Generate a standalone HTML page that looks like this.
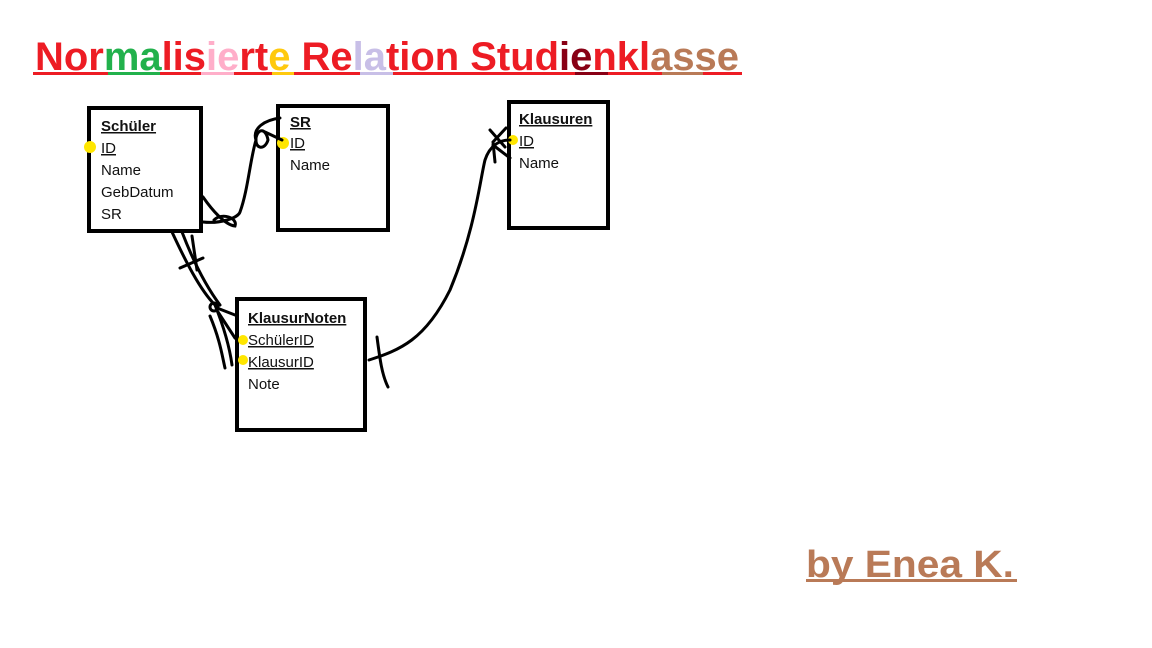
<!DOCTYPE html>
<html><head><meta charset="utf-8"><style>
html,body{margin:0;padding:0;background:#fff;}
svg{display:block;}
.t{font-family:"Liberation Sans",sans-serif;font-size:15px;fill:#111;}
.h{font-weight:bold;text-decoration:underline;}
.u{text-decoration:underline;}
</style></head><body>
<svg width="1152" height="648" viewBox="0 0 1152 648" xmlns="http://www.w3.org/2000/svg">
<rect width="1152" height="648" fill="#fff"/>
<!-- title -->
<text x="35" y="70" font-family="Liberation Sans, sans-serif" font-size="40" font-weight="bold" textLength="704" lengthAdjust="spacingAndGlyphs" fill="#ed1c24"><tspan>Nor</tspan><tspan fill="#22b14c">ma</tspan><tspan>lis</tspan><tspan fill="#ffaec9">ie</tspan><tspan>rt</tspan><tspan fill="#ffc90e">e</tspan><tspan> Re</tspan><tspan fill="#c8bfe7">la</tspan><tspan>tion Stud</tspan><tspan fill="#880015">ie</tspan><tspan>nkl</tspan><tspan fill="#b97a57">asse</tspan></text>
<rect x="33" y="72" width="709" height="3" fill="#ed1c24"/>
<rect x="108" y="72" width="52" height="3" fill="#22b14c"/>
<rect x="201" y="72" width="33" height="3" fill="#ffaec9"/>
<rect x="272" y="72" width="22" height="3" fill="#ffc90e"/>
<rect x="360" y="72" width="33" height="3" fill="#c8bfe7"/>
<rect x="575" y="72" width="33" height="3" fill="#880015"/>
<rect x="662" y="72" width="41" height="3" fill="#b97a57"/>
<!-- by Enea -->
<text x="806" y="577" font-family="Liberation Sans, sans-serif" font-size="38" font-weight="bold" fill="#b97a57" textLength="208" lengthAdjust="spacingAndGlyphs">by Enea K.</text>
<rect x="806" y="579" width="211" height="3" fill="#b97a57"/>
<!-- boxes -->
<g fill="none" stroke="#000" stroke-width="4">
<rect x="89" y="108" width="112" height="123"/>
<rect x="278" y="106" width="110" height="124"/>
<rect x="509" y="102" width="99" height="126"/>
<rect x="237" y="299" width="128" height="131"/>
</g>
<!-- texts -->
<text class="t h" x="101" y="131">Schüler</text>
<text class="t u" x="101" y="153">ID</text>
<text class="t" x="101" y="175">Name</text>
<text class="t" x="101" y="197">GebDatum</text>
<text class="t" x="101" y="219">SR</text>
<text class="t h" x="290" y="127">SR</text>
<text class="t u" x="290" y="148">ID</text>
<text class="t" x="290" y="170">Name</text>
<text class="t h" x="519" y="124">Klausuren</text>
<text class="t u" x="519" y="146">ID</text>
<text class="t" x="519" y="168">Name</text>
<text class="t h" x="248" y="323">KlausurNoten</text>
<text class="t u" x="248" y="345">SchülerID</text>
<text class="t u" x="248" y="367">KlausurID</text>
<text class="t" x="248" y="389">Note</text>
<!-- keys -->
<g fill="#ffe600">
<circle cx="90" cy="147" r="6"/>
<circle cx="283" cy="143" r="6"/>
<circle cx="513" cy="140" r="5"/>
<circle cx="243" cy="340" r="5"/>
<circle cx="243" cy="360" r="5"/>
</g>
<!-- connectors -->
<g fill="none" stroke="#000" stroke-width="3" stroke-linecap="round">
<path d="M203,222 C220,224 238,218 240,212 C248,190 250,160 256,140"/>
<path d="M203,197 C212,210 225,225 235,226 C238,218 222,212 214,220"/>
<path d="M256,140 C252,128 265,120 280,118"/>
<path d="M256,138 C258,128 266,128 268,140 C265,150 255,150 256,138"/>
<path d="M265,132 L282,140"/>
<path d="M172,232 C185,260 200,290 215,305 C225,330 230,350 232,365"/>
<path d="M182,232 C192,258 205,285 220,305"/>
<path d="M192,236 L197,270"/>
<path d="M180,268 L203,258"/>
<circle cx="214" cy="307" r="4"/>
<path d="M217,308 L235,315"/>
<path d="M218,312 L235,338"/>
<path d="M210,316 C220,340 222,355 225,368"/>
<path d="M369,360 C400,350 425,340 450,290 C475,230 480,180 485,160 C490,145 500,140 510,140"/>
<path d="M377,337 C380,360 382,375 388,387"/>
<path d="M490,130 L505,147"/>
<path d="M506,128 L493,142 L495,162"/>
<path d="M493,145 L510,158"/>
</g>
</svg>
</body></html>
